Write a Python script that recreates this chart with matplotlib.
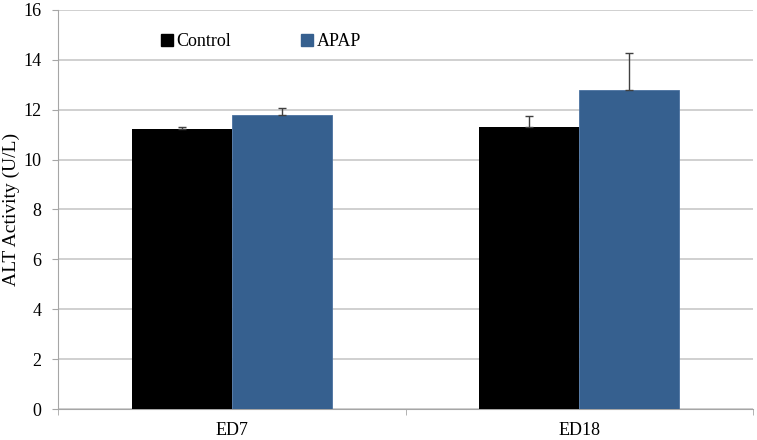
import matplotlib.pyplot as plt
from matplotlib.lines import Line2D

# ==========================================================
# Data
# ==========================================================

groups = ["ED7", "ED18"]
control_mean = [11.22, 11.30]
control_err = [0.10, 0.43]
apap_mean = [11.78, 12.80]
apap_err = [0.30, 1.48]

# ==========================================================
# Style
# ==========================================================

plt.rcParams["font.family"] = ["Liberation Serif", "DejaVu Serif"]
plt.rcParams["font.size"] = 13

BLUE = "#36608f"
GRID = "#c8c8c8"
AXIS = "#a6a6a6"

fig = plt.figure(figsize=(7.57, 4.40), dpi=100)
ax = fig.add_axes([58 / 757, 31 / 440, 695 / 757, 399 / 440])

x = list(range(len(groups)))
w = 0.288

ax.bar([i - w / 2 for i in x], control_mean, width=w, color="black",
       yerr=[[0] * len(x), control_err],
       error_kw=dict(ecolor="#404040", elinewidth=1, capsize=3, capthick=1),
       zorder=3)
ax.bar([i + w / 2 for i in x], apap_mean, width=w, color=BLUE,
       edgecolor="#4a72a0", linewidth=0.6,
       yerr=[[0] * len(x), apap_err],
       error_kw=dict(ecolor="#404040", elinewidth=1, capsize=3, capthick=1),
       zorder=3)

ax.set_xlim(-0.5, 1.5)
ax.set_ylim(0, 16)
ax.set_yticks(range(0, 17, 2))
ax.yaxis.grid(True, color=GRID, linewidth=1.2, zorder=0)
ax.set_axisbelow(True)

ax.set_xticks(x)
ax.set_xticklabels(groups)
ax.set_xticks([-0.5, 0.5, 1.5], minor=True)
ax.tick_params(axis="x", which="major", length=0, pad=9)
ax.tick_params(axis="x", which="minor", length=4, color=AXIS)
ax.tick_params(axis="y", length=4, color=AXIS, pad=8)

for side in ["top", "right"]:
    ax.spines[side].set_visible(False)
for side in ["left", "bottom"]:
    ax.spines[side].set_color(AXIS)

ax.set_ylabel("ALT Activity (U/L)", fontsize=14, labelpad=2)

handles = [
    Line2D([], [], marker="s", linestyle="none", color="black", markersize=8),
    Line2D([], [], marker="s", linestyle="none", color=BLUE, markersize=8),
]
ax.legend(handles, ["Control", "APAP"], ncol=2, frameon=False,
          loc="center left", bbox_to_anchor=(0.12, 0.92),
          handletextpad=0.05, columnspacing=3.7, handlelength=1.0)

fig.savefig("out.png", dpi=100)
